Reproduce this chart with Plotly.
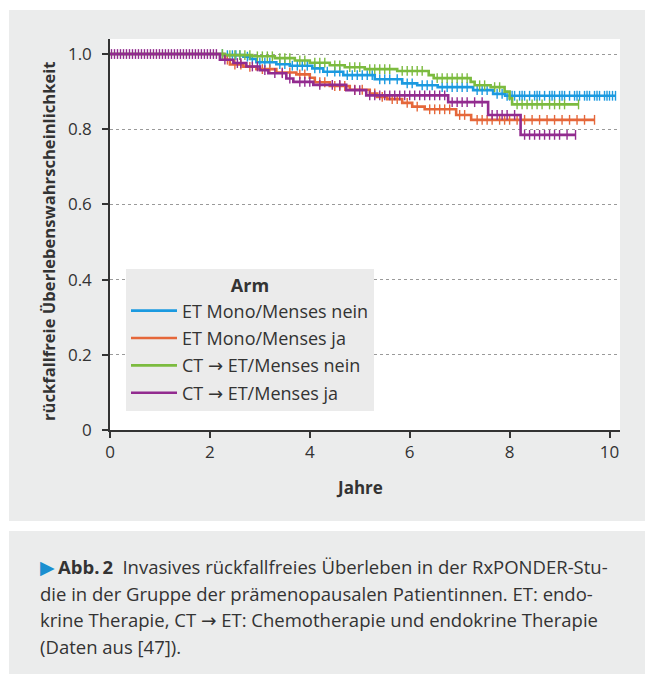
import plotly.graph_objects as go

# ---------------- data ----------------
arm_names = ["ET Mono/Menses nein", "ET Mono/Menses ja",
             "CT → ET/Menses nein", "CT → ET/Menses ja"]
arm_colors = ["#1b9ae0", "#e5673a", "#7cbb3f", "#922b8f"]

blue_t = [0, 2.27, 2.67, 2.80, 2.93, 3.33, 3.60, 4.05, 4.27, 4.67, 5.30, 5.85, 6.15, 6.56, 7.27, 7.67, 7.91]
blue_s = [1.0, 0.997, 0.993, 0.987, 0.978, 0.973, 0.969, 0.962, 0.953, 0.944, 0.933, 0.922, 0.917, 0.912, 0.904, 0.894, 0.889]
blue_end = 10.12
blue_cens = [2.25, 2.35, 2.45, 2.52, 2.6, 2.75, 2.85, 3.0, 3.1, 3.2, 3.4, 3.5, 3.65, 3.75, 3.85, 3.95,
             4.1, 4.2, 4.35, 4.5, 4.6, 4.75, 4.85, 4.95, 5.05, 5.15, 5.25, 5.4, 5.5, 5.6, 5.75, 5.95,
             6.05, 6.25, 6.35, 6.45, 6.65, 6.75, 6.85, 6.95, 7.05, 7.15, 7.35, 7.45, 7.55, 7.75, 7.85,
             7.95, 8.0, 8.05, 8.1, 8.2, 8.25, 8.3, 8.4, 8.5, 8.55, 8.6, 8.7, 8.8, 8.85, 8.9, 9.0, 9.05,
             9.1, 9.2, 9.3, 9.35, 9.4, 9.5, 9.55, 9.6, 9.7, 9.75, 9.8, 9.9, 9.95, 10.0, 10.06, 10.12]

orange_t = [0, 2.30, 2.40, 2.67, 2.93, 3.33, 3.73, 4.00, 4.10, 4.40, 4.80, 5.20, 5.35, 5.55, 5.85, 6.05, 6.30, 6.93, 7.23]
orange_s = [1.0, 0.985, 0.972, 0.966, 0.960, 0.951, 0.946, 0.937, 0.925, 0.915, 0.905, 0.895, 0.886, 0.880, 0.870, 0.860, 0.853, 0.838, 0.825]
orange_end = 9.70
orange_cens = [2.35, 2.5, 2.62, 2.8, 3.05, 3.2, 3.45, 3.6, 3.8, 3.9, 4.2, 4.3, 4.5, 4.6, 4.7, 4.9, 5.05,
               5.3, 5.45, 5.65, 5.75, 5.95, 6.15, 6.4, 6.5, 6.6, 6.7, 6.8, 7.0, 7.1, 7.35, 7.45, 7.55,
               7.65, 7.8, 7.9, 8.0, 8.15, 8.3, 8.45, 8.6, 8.75, 8.9, 9.05, 9.2, 9.35, 9.5, 9.7]

green_t = [0, 2.30, 2.85, 3.30, 3.70, 4.00, 4.40, 4.70, 5.10, 5.75, 6.38, 6.48, 7.22, 7.30, 7.62, 7.90, 8.00, 8.05]
green_s = [1.0, 0.997, 0.994, 0.989, 0.983, 0.977, 0.970, 0.965, 0.960, 0.955, 0.944, 0.936, 0.926, 0.917, 0.912, 0.900, 0.882, 0.866]
green_end = 9.38
green_cens = [2.25, 2.4, 2.5, 2.6, 2.7, 2.8, 2.95, 3.05, 3.15, 3.25, 3.4, 3.5, 3.6, 3.8, 3.9, 4.1, 4.2,
              4.3, 4.5, 4.6, 4.8, 4.9, 5.0, 5.2, 5.3, 5.4, 5.5, 5.6, 5.85, 5.95, 6.05, 6.15, 6.25, 6.55,
              6.65, 6.75, 6.85, 6.95, 7.05, 7.15, 7.4, 7.5, 7.7, 7.8, 8.15, 8.25, 8.35, 8.45, 8.55, 8.65,
              8.8, 8.9, 9.0, 9.1, 9.38]

purple_t = [0, 2.20, 2.47, 2.73, 3.00, 3.17, 3.53, 3.67, 4.07, 4.73, 5.13, 6.77, 7.57, 8.22]
purple_s = [1.0, 0.985, 0.976, 0.967, 0.957, 0.949, 0.935, 0.926, 0.918, 0.904, 0.890, 0.872, 0.838, 0.785]
purple_end = 9.32
purple_cens = [0.03, 0.09, 0.15, 0.21, 0.27, 0.33, 0.39, 0.45, 0.51, 0.57, 0.63, 0.69, 0.75, 0.81,
               0.87, 0.93, 0.99, 1.05, 1.11, 1.17, 1.23, 1.29, 1.35, 1.41, 1.47, 1.53, 1.59, 1.65,
               1.71, 1.77, 1.83, 1.89, 1.95, 2.01, 2.07, 2.13, 2.3, 2.55, 2.62, 2.85, 2.95, 3.1, 3.3,
               3.45, 3.6, 3.8, 3.9, 4.0, 4.2, 4.45, 4.6, 4.9, 5.0, 5.2, 5.3, 5.4, 5.5, 5.6, 5.7, 5.8,
               5.9, 6.0, 6.1, 6.2, 6.3, 6.4, 6.5, 6.6, 6.7, 6.85, 6.95, 7.05, 7.15, 7.3, 7.45, 7.65,
               7.75, 7.85, 7.95, 8.1, 8.3, 8.4, 8.5, 8.6, 8.7, 8.8, 8.9, 9.0, 9.15, 9.32]

x_ticks = [0, 2, 4, 6, 8, 10]
x_ticklabels = ["0", "2", "4", "6", "8", "10"]
y_ticks = [0, 0.2, 0.4, 0.6, 0.8, 1.0]
y_ticklabels = ["0", "0.2", "0.4", "0.6", "0.8", "1.0"]

caption_lines = [
    "<span style='color:#1a8fd0;font-size:19px'>▶</span>\u2009<b>Abb.\u20092</b>\u2002Invasives rückfallfreies Überleben in der RxPONDER-Stu-",
    "die in der Gruppe der prämenopausalen Patientinnen. ET: endo-",
    "krine Therapie, CT → ET: Chemotherapie und endokrine Therapie",
    "(Daten aus [47]).",
]

series = [
    (blue_t, blue_s, blue_end, blue_cens),
    (orange_t, orange_s, orange_end, orange_cens),
    (green_t, green_s, green_end, green_cens),
    (purple_t, purple_s, purple_end, purple_cens),
]


def arrow_font(s):
    # render the arrow glyph with a font that has a full-size arrow
    return s.replace("→", "<span style='font-family:DejaVu Sans'>→</span>")


# ---------------- figure ----------------
W, H = 645, 674
L, R, T = 110, 25, 39
PW = W - L - R
PH = 391
B = H - T - PH


def px_x(px):
    return (px - L) / PW


def px_y(py):
    return (T + PH - py) / PH


def step_value(times, surv, t):
    v = surv[0]
    for ti, si in zip(times, surv):
        if ti <= t:
            v = si
    return v


FONT = "Open Sans"
TXT = "#333333"
fig = go.Figure()

for i, (name, col, (ts, ss, tend, cens)) in enumerate(zip(arm_names, arm_colors, series)):
    fig.add_trace(go.Scatter(
        x=ts + [tend], y=ss + [ss[-1]], mode="lines", line=dict(color=col, width=2.6, shape="hv"),
        name=arrow_font(name), legendgroup=f"g{i}", showlegend=True, hoverinfo="skip"))
    fig.add_trace(go.Scatter(
        x=cens, y=[step_value(ts, ss, c) for c in cens], mode="markers",
        marker=dict(symbol="line-ns", size=7, line=dict(color=col, width=1.4)),
        legendgroup=f"g{i}", showlegend=False, hoverinfo="skip"))

shapes = [
    dict(type="rect", xref="paper", yref="paper", layer="below",
         x0=px_x(9), x1=px_x(650), y0=px_y(521), y1=px_y(10),
         fillcolor="#ebecec", line=dict(width=0)),
    dict(type="rect", xref="paper", yref="paper", layer="below",
         x0=px_x(9), x1=px_x(650), y0=px_y(690), y1=px_y(531),
         fillcolor="#ebecec", line=dict(width=0)),
    dict(type="rect", xref="x domain", yref="y domain", layer="below",
         x0=0, x1=1, y0=0, y1=1, fillcolor="white", line=dict(width=0)),
]

annotations = [
    dict(text="<b>rückfallfreie Überlebenswahrscheinlichkeit</b>", textangle=-90,
         xref="paper", yref="paper", x=px_x(48), y=px_y(241), showarrow=False,
         xanchor="center", yanchor="middle", font=dict(family=FONT, size=16.6, color=TXT)),
    dict(text="<b>Jahre</b>", xref="paper", yref="paper", x=px_x(359), y=px_y(487),
         showarrow=False, xanchor="center", yanchor="middle",
         font=dict(family=FONT, size=17, color=TXT)),
]
for k, line in enumerate(caption_lines):
    annotations.append(dict(
        text=arrow_font(line), xref="paper", yref="paper", x=px_x(38), y=px_y(567 + 26.4 * k),
        showarrow=False, xanchor="left", yanchor="middle", align="left",
        font=dict(family=FONT, size=18.5, color=TXT)))

fig.update_layout(
    width=W, height=H, margin=dict(l=L, r=R, t=T, b=B, pad=0),
    paper_bgcolor="white", plot_bgcolor="white",
    font=dict(family=FONT, color=TXT),
    shapes=shapes, annotations=annotations,
    legend=dict(
        x=px_x(126), y=px_y(269), xanchor="left", yanchor="top",
        bgcolor="#ebebeb", borderwidth=0, traceorder="grouped", tracegroupgap=1,
        title=dict(text="<b>Arm</b>", side="top center", font=dict(family=FONT, size=18, color=TXT)),
        font=dict(family=FONT, size=18, color=TXT), itemwidth=46,
    ),
    xaxis=dict(range=[0, 10.21], tickvals=x_ticks, ticktext=x_ticklabels, showgrid=False,
               zeroline=False, showline=True, linecolor="#333", linewidth=1.5,
               ticks="outside", ticklen=6, tickwidth=1.5, tickcolor="#333",
               tickfont=dict(family=FONT, size=17, color=TXT), ticklabelstandoff=0),
    yaxis=dict(range=[0, 1.04], tickvals=y_ticks, ticktext=y_ticklabels, showgrid=True,
               gridcolor="#9a9a9a", griddash="dot", gridwidth=1,
               zeroline=False, showline=True, linecolor="#333", linewidth=1.5,
               ticks="outside", ticklen=6, tickwidth=1.5, tickcolor="#333",
               tickfont=dict(family=FONT, size=17, color=TXT), ticklabelstandoff=7),
)

fig.write_html("out.html", config={"displayModeBar": False},
               post_script="document.body.style.margin='0';document.body.style.overflow='hidden';")
